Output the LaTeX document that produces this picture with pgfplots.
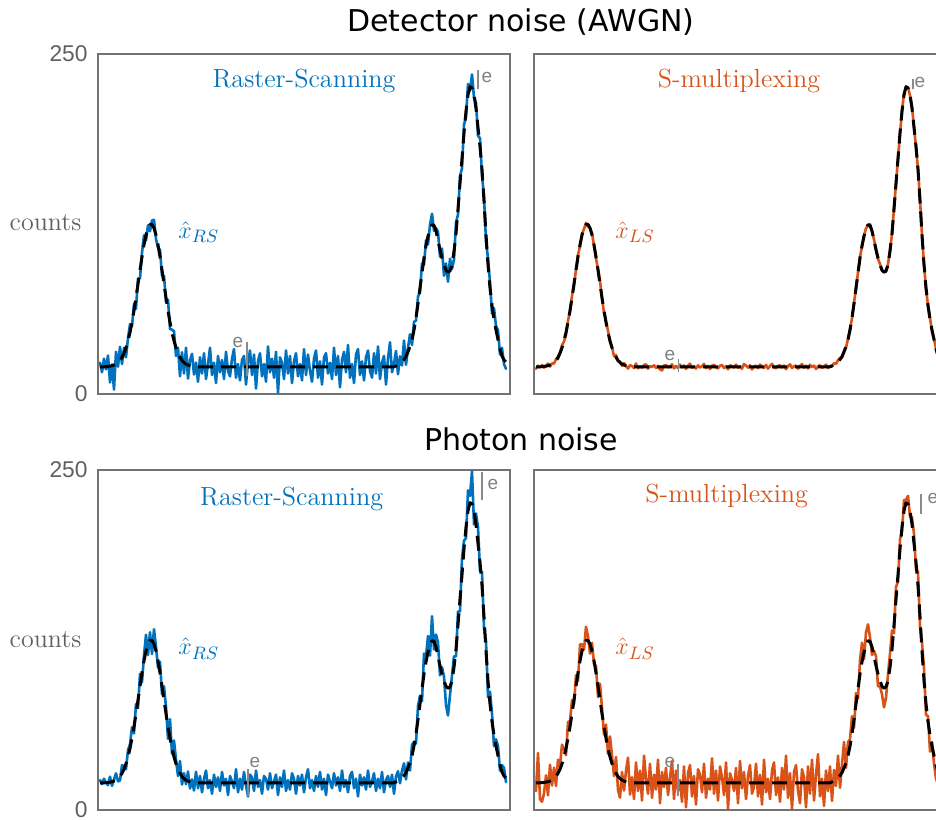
\documentclass[border=0pt]{standalone}
\usepackage{pgfplots}
\pgfplotsset{compat=1.18}
\usepackage{pgfplotstable}
\usepackage{fontspec}
\newfontfamily\dejavu{DejaVu Sans}
\newfontfamily\libsans{Liberation Sans}
\definecolor{mblue}{HTML}{0072BD}
\definecolor{morange}{HTML}{D95319}
\definecolor{axgray}{HTML}{737373}
\definecolor{txtgray}{HTML}{5F5F5F}
\definecolor{ebarc}{HTML}{8A8A8A}

\pgfplotstableread{
x T tl tr bl br
2 20.0 23 18.5 22 14
4 20.0 16 20.8 19 42
6 20.0 26 19.6 23 8
8 20.1 18.1 21.3 20.1 6.1
10 20.3 28.3 19.4 18.3 12.3
12 20.5 8.5 20.8 24.5 25.5
14 20.8 21.8 22.4 17.8 10.8
16 21.3 3.3 20.2 22.3 33.3
18 22.0 31 22.5 27 18
20 23.1 20.1 22.4 21.1 31.1
22 24.7 34.7 25.7 21.7 17.7
24 27.0 22 25.6 33 37
26 30.0 34 30.6 32 33
28 34.0 27 35.8 30 48
30 39.1 41.1 38.6 44.1 45.1
32 45.3 51.3 43.7 48.3 40.3
34 52.8 49.8 53.7 60.8 64.8
36 61.3 66.3 61.0 56.3 65.3
38 70.8 62.8 72.1 77.8 80.8
40 80.9 84.9 79.9 74.9 77.9
42 91.1 85.1 91.5 100.1 99.1
44 100.9 103.9 102.4 93.9 94.9
46 109.7 116.7 108.5 113.7 121.7
48 116.9 112.9 117.6 128.9 121.9
50 122.0 124 121.4 114 118
52 124.7 119.7 125.8 130.7 134.7
54 124.7 127.7 123.0 114.7 127.7
56 122.0 128 122.2 133 115
58 116.9 113.9 118.3 119.9 122.9
60 109.7 107.7 108.9 104.7 107.7
62 100.9 105.9 99.6 108.9 105.9
64 91.1 87.1 92.0 85.1 83.1
66 80.9 86.9 83.1 90.9 92.9
68 70.8 67.8 70.4 75.8 74.8
70 61.3 69.3 59.8 52.3 55.3
72 52.8 47.8 53.4 66.8 62.8
74 45.3 47.3 46.5 41.3 41.3
76 39.1 46.1 38.2 51.1 54.1
78 34.0 28 34.3 37 40
80 30.0 34 28.0 25 25
82 27.0 13 28.7 36 39
84 24.7 30.7 24.1 18.7 14.7
86 23.1 15.1 23.9 27.1 9.1
88 22.0 34 20.8 19 28
90 21.3 11.3 22.8 28.3 14.3
92 20.8 24.8 20.5 15.8 28.8
94 20.5 29.5 18.7 22.5 38.5
96 20.3 14.3 21.3 14.3 11.3
98 20.1 23.1 20.5 28.1 24.1
100 20 9 19.1 16 8
102 20 27 22.4 25 35
104 20 15 18.9 13 14
106 20 30 20.5 23 29
108 20 11 19.3 29 7
110 20 22 21.3 16 40
112 20 34 21.9 22 23
114 20 14 18.6 12 12
116 20 23 20.6 26 34
118 20 8 19.8 17 9
120 20 28 21.1 24 26
122 20 16 19.2 14 15
124 20 25 20.7 28 37
126 20 11 18.1 18 5
128 20 31 17.4 23 28
130 20 17 20.9 11 17
132 20 13 21.4 25 31
134 20 26 19.5 21 11
136 20 33 20.3 16 24
138 20 12 21.8 30 36
140 20 22 18.8 13 8
142 20 10 20.6 23 29
144 20 25 19.1 15 14
146 20 28 21.6 28 22
148 20 7 19.6 18 6
150 20 23 21.0 10 32
152 20 32 18.5 26 2
154 20 14 20.8 24 27
156 20 29 22.3 14 33
158 20 4 19.3 29 10
160 20 24 20.2 17 25
162 20 30 18.7 22 4
164 20 13 21.1 12 30
166 20 22 19.4 25 26
168 20 9 20.4 23 13
170 20 35 22.1 15 34
172 20 16 19.0 27 9
174 20 26 20.7 16 23
176 20 12 18.4 21 15
178 20 31 20.9 26 38
180 20 1 21.5 11 12
182 20 27 19.6 24 29
184 20 23 18.8 17 7
186 20 11 20.8 29 32
188 20 32 21.3 14 24
190 20 15 19.1 22 11
192 20 28 20.5 15 35
194 20 8 18.2 27 1
196 20 24 21.2 23 27
198 20 30 20.6 12 22
200 20 13 19.5 25 14
202 20 22 21.6 18 31
204 20 10 19.3 26 5
206 20 33 20.3 13 36
208 20 14 18.6 24 16
210 20 29 22.0 30 28
212 20 17 20.9 16 8
214 20 9 19.4 22 25
216 20 26 21.1 14 33
218 20 32 18.1 25 12
220 20 12 20.4 17 17
222 20 24 20.8 28 34
224 20 7 19.0 15 10
226 20 27 21.7 23 26
228 20 30 20.2 11 4
230 20 15 19.2 26 37
232 20 23 21.4 21 13
234 20 11 18.7 16 23
236 20 34 20.5 27 8
238 20 14 22.2 18 29
240 20 28 19.4 24 35
242 20 5 18.9 14 11
244 20 25 20.7 29 24
246 20 31 21.2 17 6
248 20 16 19.5 22 31
250 20 36 20.9 13 15
252 20 12 18.3 25 40
254 20 22 20.4 28 9
256 20 8 21.8 16 27
258 20 29 19.1 23 1
260 20 33 20.3 10 28
262 20 14 21.0 26 33
264 20 24 18.6 18 14
266 20 10 20.6 24 5
268 20 27 22.0 15 30
270 20 32 19.3 29 24
272 20 17 20.8 17 2
274 20 12 18.8 21 32
276 20 30 21.5 27 12
278 20 15 19.7 14 37
280 20 35 20.9 23 7
282 20 11 18.4 16 26
284 20 23 20.5 28 41
286 20 28 21.1 13 10
288 20 7 19.2 22 23
290 20 26 20.2 25 3
292 20 38 21.6 17 29
294 20 16 19.0 26 14
296 20 22 20.7 12 32
298 20.7 31.7 20.3 24.7 6.7
300 21.5 14.5 22.7 28.5 29.5
302 22.7 27.7 22.1 19.7 17.7
304 24 21 24.9 29 40
306 25.3 39.3 26.6 34.3 16.3
308 27.5 21.5 26.8 22.5 33.5
310 31 34 31.4 35 50
312 35 44 34.1 29 31
314 40 36 40.6 48 50
316 47 53 48.0 50 52
318 56 54 55.5 49 69
320 66.5 71.5 67.3 76.5 60.5
322 78 75 77.2 84 86
324 89 96 89.5 80 82
326 100 95 100.9 115 110
328 109 113 108.4 113 123
330 116 110 116.7 128 111
332 121.5 124.5 121.8 113.5 130.5
334 124.5 132.5 124.1 142.5 136.5
336 124 120 124.8 118 127
338 120 122 119.5 129 114
340 113 119 113.6 123 117
342 106 101 106.4 99 113
344 100 107 99.3 105 91
346 95 87 95.6 98 91
348 91 96 90.7 77 85
350 89.5 82.5 90.3 69.5 75.5
352 90.5 99.5 89.9 84.5 82.5
354 95 92 95.5 99 100
356 105 99 105.9 113 115
358 118 126 117.6 113 132
360 136 132 136.7 146 130
362 155 160 154.5 146 164
364 173 166 173.6 185 168
366 192 198 191.2 198 199
368 208 204 208.4 200 205
370 220 228 220.7 235 228
372 226 223 225.7 231 228
374 225 235 225.5 249 231
376 220 218 219.4 210 216
378 210 214 210.8 218 215
380 196 190 196.4 208 203
382 182 188 181.3 176 177
384 165 161 165.5 175 175
386 142 145 142.9 134 135
388 117 112 116.6 124 123
390 95 100 95.6 83 104
392 78 82 77.2 87 70
394 65 59 65.3 71 69
396 55 63 55.7 47 43
398 47 50 46.5 52 50
400 40 47 40.6 47 34
402 33 29 33.4 29 23
404 28 34 27.4 33 19
406 25 22 25.8 31 30
408 23.5 18.5 23.2 20.5 15.5
}\data

\pgfplotsset{
  panel/.style={scale only axis, width=206pt, height=170pt,
    xmin=0, xmax=412, ymin=0, ymax=250, xtick=\empty,
    axis line style={draw=axgray, line width=0.9pt},
    tick style={draw=none}, clip mode=individual,
    yticklabel style={font=\fontsize{11.4}{12}\selectfont\libsans, text=txtgray, inner sep=0pt, xshift=-5pt},
    /pgf/number format/assume math mode=true},
}
\tikzset{
  noisy/.style={line width=1.3pt, line join=round, line cap=round},
  truth/.style={black, line width=1.5pt, dash pattern=on 7.5pt off 4pt, line join=round},
  ebar/.style={ebarc, line width=0.8pt},
  efont/.style={font=\fontsize{9.5}{10}\selectfont\libsans, text=gray, inner sep=0pt},
  plab/.style={font=\fontsize{13.1}{15}\selectfont, anchor=base, inner sep=0pt},
  xlab/.style={font=\fontsize{13}{15}\selectfont, anchor=base west, inner sep=0pt},
  clab/.style={font=\fontsize{13}{15}\selectfont, anchor=base east, inner sep=0pt, text=txtgray},
}

\begin{document}
\begin{tikzpicture}
\useasboundingbox (0,0) rectangle (468pt,-409.5pt);
\node[anchor=base, inner sep=0pt, font=\fontsize{15}{18}\selectfont\dejavu] at (260.5pt,-15.9pt) {Detector noise (AWGN)};
\node[anchor=base, inner sep=0pt, font=\fontsize{15}{18}\selectfont\dejavu] at (260.5pt,-225pt) {Photon noise};
\begin{scope}
\clip (0,0) rectangle (468pt,-409.5pt);
% top left
\begin{axis}[panel, ytick={0,250}, at={(49pt,-27pt)}, anchor=north west]
\addplot[noisy, mblue] table[x=x,y=tl]{\data};
\addplot[truth] table[x=x,y=T]{\data};
\addplot[ebar] coordinates {(380,224) (380,238)};
\addplot[ebar] coordinates {(149,13) (149,38)};
\node[efont] at (axis cs:389,233) {e};
\node[efont] at (axis cs:140,38) {e};
\node[plab, text=mblue] at (axis cs:206,225.7) {Raster-Scanning};
\node[xlab, text=mblue] at (axis cs:80,114) {$\hat{x}_{RS}$};
\node[clab] at (axis cs:-16.3,120) {counts};
\end{axis}
% top right
\begin{axis}[panel, ytick=\empty, at={(267pt,-27pt)}, anchor=north west]
\addplot[noisy, morange] table[x=x,y=tr]{\data};
\addplot[truth] table[x=x,y=T]{\data};
\addplot[ebar] coordinates {(379,224) (379,231.5)};
\addplot[ebar] coordinates {(144.3,16) (144.3,25.7)};
\node[efont] at (axis cs:386,229) {e};
\node[efont] at (axis cs:136,28.2) {e};
\node[plab, text=morange] at (axis cs:205,225.5) {S-multiplexing};
\node[xlab, text=morange] at (axis cs:81,114) {$\hat{x}_{LS}$};
\end{axis}
% bottom left
\begin{axis}[panel, ytick={0,250}, at={(49pt,-235pt)}, anchor=north west]
\addplot[noisy, mblue] table[x=x,y=bl]{\data};
\addplot[truth] table[x=x,y=T]{\data};
\addplot[ebar] coordinates {(384,228) (384,248.5)};
\addplot[ebar] coordinates {(150,10) (150,30)};
\node[efont] at (axis cs:395,239.7) {e};
\node[efont] at (axis cs:157,34.6) {e};
\node[plab, text=mblue] at (axis cs:193.7,223.8) {Raster-Scanning};
\node[xlab, text=mblue] at (axis cs:80,114) {$\hat{x}_{RS}$};
\node[clab] at (axis cs:-16.3,119.3) {counts};
\end{axis}
% bottom right
\begin{axis}[panel, ytick=\empty, at={(267pt,-235pt)}, anchor=north west]
\addplot[noisy, morange] table[x=x,y=br]{\data};
\addplot[truth] table[x=x,y=T]{\data};
\addplot[ebar] coordinates {(387,218) (387,232)};
\addplot[ebar] coordinates {(144,10.3) (144,33.8)};
\node[efont] at (axis cs:399,229) {e};
\node[efont] at (axis cs:136,34.6) {e};
\node[plab, text=morange] at (axis cs:192.7,226.2) {S-multiplexing};
\node[xlab, text=morange] at (axis cs:81,114) {$\hat{x}_{LS}$};
\end{axis}
\end{scope}
\end{tikzpicture}
\end{document}
